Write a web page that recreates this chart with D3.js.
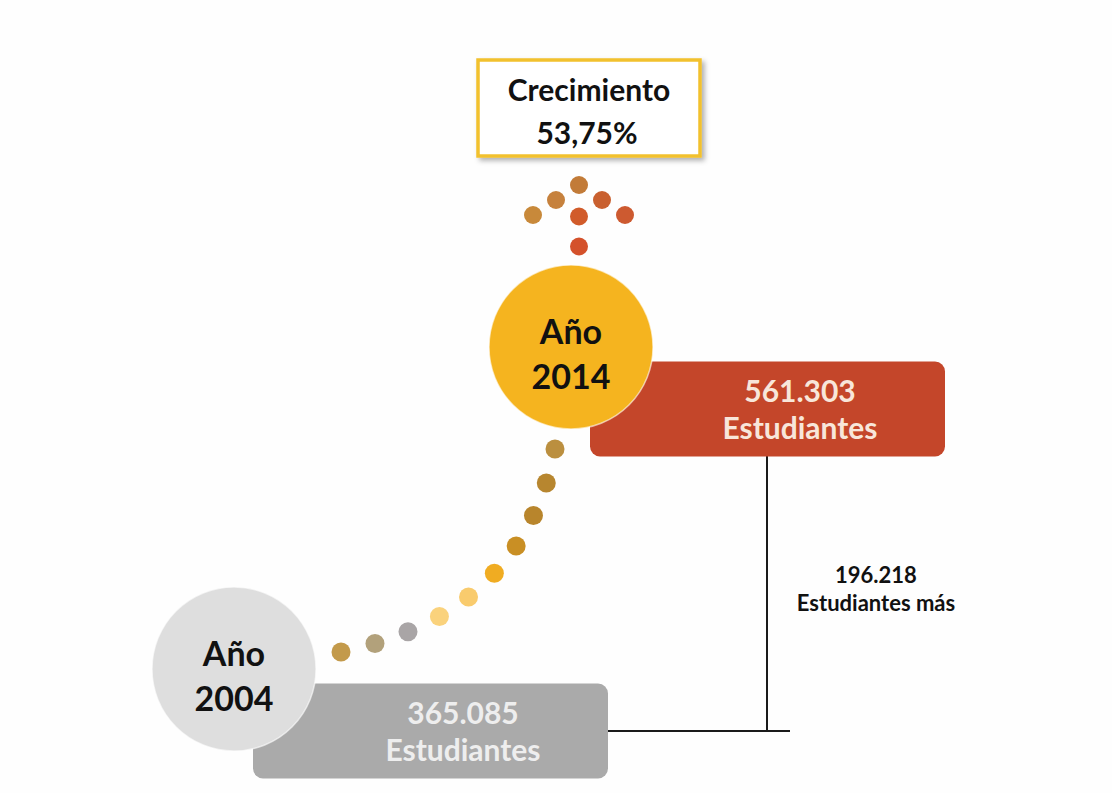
<!DOCTYPE html>
<html>
<head>
<meta charset="utf-8">
<script src="https://cdn.jsdelivr.net/npm/d3@7"></script>
<style>
  html, body { margin: 0; padding: 0; background: #fefefe; }
  svg { display: block; font-family: Lato, "Open Sans", sans-serif; font-weight: bold; }
</style>
</head>
<body>
<script>
const width = 1112
const height = 793

// data
const years = [2004, 2014]
const students = [365085, 561303]
const difference = 196218
const growth = "53,75%"
const unitLabel = "Estudiantes"
const diffLabel = "Estudiantes más"
const growthLabel = "Crecimiento"
const circleColors = ["#dedede", "#f5b41f"]
const boxColors = ["#aaaaaa", "#c4462a"]
const boxTextColors = ["#eeeeee", "#f8e6da"]
const trailColors = ["#c39a4b", "#b2a17b", "#a9a5a6", "#fad27c", "#f9cb6d", "#f0ac22", "#c98f24", "#b8852c", "#b7862f", "#bb8f3f"]
const arrowColors = ["#c27b38", "#c6813d", "#c9602f", "#c8893a", "#d15b2a", "#cd5a30", "#d4512b"]

const fmt = d3.formatLocale({decimal: ",", thousands: ".", grouping: [3]}).format(",")

const x = d3.scaleLinear().domain(d3.extent(years)).range([234, 571])
const y = d3.scaleLinear().domain(d3.extent(students)).range([669, 347])

const boxW = 355, boxH = 95
const items = years.map((yr, i) => ({
  year: yr, value: students[i],
  cx: x(yr), cy: y(students[i]),
  bx: x(yr) + 19, by: y(students[i]) + 62 - boxH / 2,
  circle: circleColors[i], box: boxColors[i], text: boxTextColors[i]
}))

const svg = d3.select("body").append("svg").attr("width", width).attr("height", height)

const defs = svg.append("defs")
defs.append("filter").attr("id", "shadow").attr("x", "-10%").attr("y", "-10%").attr("width", "130%").attr("height", "140%")
  .append("feDropShadow").attr("dx", 3).attr("dy", 3).attr("stdDeviation", 2.5)
  .attr("flood-color", "#000").attr("flood-opacity", 0.3)

// connector lines
const [low, high] = items
svg.append("line")
  .attr("x1", low.bx + boxW - 2).attr("x2", 790)
  .attr("y1", low.by + boxH / 2).attr("y2", low.by + boxH / 2)
  .attr("stroke", "#1a1a1a").attr("stroke-width", 2)
svg.append("line")
  .attr("x1", 767).attr("x2", 767)
  .attr("y1", high.by + boxH - 3).attr("y2", low.by + boxH / 2)
  .attr("stroke", "#1a1a1a").attr("stroke-width", 2)

svg.append("text").attr("x", 876).attr("y", 583).attr("text-anchor", "middle")
  .attr("font-size", 22).attr("fill", "#111").text(fmt(difference))
svg.append("text").attr("x", 876).attr("y", 611).attr("text-anchor", "middle")
  .attr("font-size", 22).attr("fill", "#111").text(diffLabel)

// boxes
const g = svg.selectAll("g.year").data(items).join("g").attr("class", "year")
g.append("rect")
  .attr("x", d => d.bx).attr("y", d => d.by)
  .attr("width", boxW).attr("height", boxH).attr("rx", 10)
  .attr("fill", d => d.box)
g.append("text").attr("x", d => d.bx + 210).attr("y", d => d.by + 40)
  .attr("text-anchor", "middle").attr("font-size", 30).attr("fill", d => d.text)
  .text(d => fmt(d.value))
g.append("text").attr("x", d => d.bx + 210).attr("y", d => d.by + 77)
  .attr("text-anchor", "middle").attr("font-size", 30).attr("fill", d => d.text)
  .text(unitLabel)
g.append("circle")
  .attr("cx", d => d.cx).attr("cy", d => d.cy).attr("r", 82)
  .attr("fill", d => d.circle).attr("stroke", "#fff").attr("stroke-opacity", 0.6).attr("stroke-width", 1.5)
g.append("text").attr("x", d => d.cx).attr("y", d => d.cy - 3)
  .attr("text-anchor", "middle").attr("font-size", 34).attr("fill", "#111").text("Año")
g.append("text").attr("x", d => d.cx).attr("y", d => d.cy + 42)
  .attr("text-anchor", "middle").attr("font-size", 34).attr("fill", "#111").text(d => d.year)

// dotted trail between the two circles
const trail = d3.path()
trail.moveTo(341, 652)
trail.quadraticCurveTo(522, 615, 555, 449)
const guide = svg.append("path").attr("d", trail.toString()).attr("fill", "none")
const len = guide.node().getTotalLength()
const trailPts = trailColors.map((c, i) => {
  const p = guide.node().getPointAtLength(len * i / (trailColors.length - 1))
  return {x: p.x, y: p.y, c}
})
guide.remove()
svg.append("g").selectAll("circle").data(trailPts).join("circle")
  .attr("cx", d => d.x).attr("cy", d => d.y).attr("r", 9.5).attr("fill", d => d.c)

// arrow of dots
const arrowCells = [[0, 0], [-1, 1], [1, 1], [-2, 2], [0, 2.1], [2, 2], [0, 4.1]]
svg.append("g").selectAll("circle").data(arrowCells).join("circle")
  .attr("cx", d => 579 + d[0] * 23)
  .attr("cy", d => 185 + d[1] * 15)
  .attr("r", 9)
  .attr("fill", (d, i) => arrowColors[i])

// growth box
svg.append("rect").attr("x", 478).attr("y", 60).attr("width", 222).attr("height", 96)
  .attr("fill", "#fff").attr("stroke", "#f2c12e").attr("stroke-width", 3.5)
  .attr("filter", "url(#shadow)")
svg.append("text").attr("x", 589).attr("y", 101).attr("text-anchor", "middle")
  .attr("font-size", 30).attr("fill", "#111").text(growthLabel)
svg.append("text").attr("x", 587).attr("y", 144).attr("text-anchor", "middle")
  .attr("font-size", 30).attr("fill", "#111").text(growth)
</script>
</body>
</html>
